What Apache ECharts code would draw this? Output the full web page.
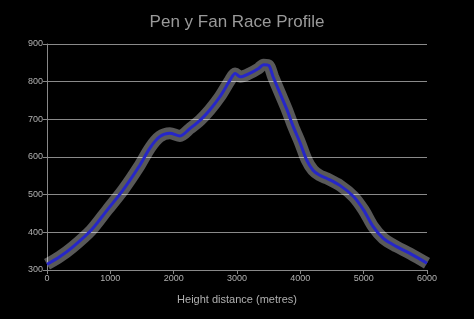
<!DOCTYPE html>
<html>
<head>
<meta charset="utf-8">
<script src="https://cdn.jsdelivr.net/npm/echarts@6/dist/echarts.min.js"></script>
<style>html,body{margin:0;padding:0;background:#000;}#c{width:474px;height:319px;}</style>
</head>
<body>
<div id="c"></div>
<script>
var titleText = "Pen y Fan Race Profile";
var xAxisName = "Height distance (metres)";
var distance = [0,200,400,700,950,1200,1450,1630,1780,1940,2100,2260,2420,2570,2730,2890,2970,3050,3200,3340,3420,3500,3570,3680,3790,3890,4000,4100,4200,4300,4420,4630,4840,5000,5150,5310,5520,5730,6000];
var elevation = [315,335,360,406,459,512,574,625,654,663,656,676,698,725,760,804,822,813,822,835,845,843,813,769,725,680,636,592,565,552,543,524,495,459,415,384,362,344,318];
var xTicks = [0,1000,2000,3000,4000,5000,6000];
var yTicks = [300,400,500,600,700,800,900];

var pts = distance.map(function(d,i){return [d, elevation[i]];});
var chart = echarts.init(document.getElementById('c'));
chart.setOption({
  backgroundColor: '#000',
  animation: false,
  title: {text: titleText, left: 'center', top: 9,
    textStyle: {color: '#9a9a9a', fontSize: 17, fontWeight: 'normal', fontFamily: 'Liberation Sans'}},
  grid: {left: 47, right: 47, top: 44, bottom: 49},
  xAxis: {type: 'value', min: xTicks[0], max: xTicks[xTicks.length-1], interval: 1000,
    name: xAxisName, nameLocation: 'middle', nameGap: 24,
    nameTextStyle: {color: '#b0b0b0', fontSize: 11, fontFamily: 'Liberation Sans'},
    axisLine: {show: true, lineStyle: {color: '#888'}},
    axisTick: {show: true, length: 4, lineStyle: {color: '#888'}},
    axisLabel: {color: '#b0b0b0', fontSize: 9, margin: 4, formatter: function(v){return String(v);}},
    splitLine: {show: false}},
  yAxis: {type: 'value', min: yTicks[0], max: yTicks[yTicks.length-1], interval: 100,
    axisLine: {show: true, lineStyle: {color: '#888'}},
    axisTick: {show: true, length: 4, lineStyle: {color: '#888'}},
    axisLabel: {color: '#b0b0b0', fontSize: 9, margin: 4},
    splitLine: {show: true, lineStyle: {color: '#8a8a8a', width: 1}}},
  series: [
    {type: 'line', data: pts, symbol: 'none', smooth: 0.3,
      lineStyle: {color: '#ffffff', width: 12, opacity: 0.35}, z: 2},
    {type: 'line', data: pts, symbol: 'none', smooth: 0.3,
      lineStyle: {color: '#2626c8', width: 3}, z: 3}
  ]
});
</script>
</body>
</html>
